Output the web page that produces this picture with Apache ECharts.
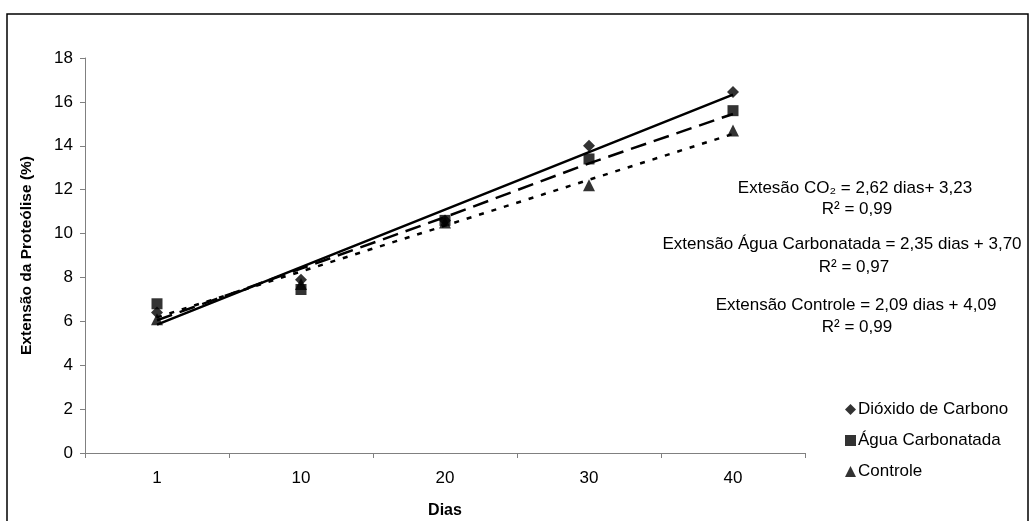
<!DOCTYPE html>
<html>
<head>
<meta charset="utf-8">
<script src="https://cdn.jsdelivr.net/npm/echarts@6/dist/echarts.min.js"></script>
<style>html,body{margin:0;padding:0;background:#fff}#c{width:1029px;height:521px}</style>
</head>
<body>
<div id="c"></div>
<script>
// Data
const categories = ['1', '10', '20', '30', '40'];
const co2 = [6.4, 7.9, 10.6, 14.0, 16.45];
const agua = [6.8, 7.45, 10.6, 13.4, 15.6];
const controle = [6.1, 7.7, 10.5, 12.2, 14.7];
// Trend lines as drawn in the picture (values at each category)
const co2Trend = [5.85, 8.47, 11.09, 13.71, 16.33];
const aguaTrend = [6.05, 8.40, 10.75, 13.2, 15.45];
const controleTrend = [6.18, 8.27, 10.36, 12.45, 14.54];
const seriesNames = ['Dióxido de Carbono', 'Água Carbonatada', 'Controle'];
const yTicks = [0, 18, 2];

const font = 'Arial, "Liberation Sans", sans-serif';
const fs = 17;
const chart = echarts.init(document.getElementById('c'));
chart.setOption({
  animation: false,
  backgroundColor: '#fff',
  grid: {left: 85, right: 224, top: 58, bottom: 68, containLabel: false, outerBoundsMode: 'none'},
  xAxis: {
    type: 'category', data: categories, boundaryGap: true,
    name: 'Dias', nameLocation: 'middle', nameGap: 50,
    nameTextStyle: {fontFamily: font, fontWeight: 'bold', fontSize: 16, color: '#000'},
    axisLine: {lineStyle: {color: '#808080', width: 1}},
    axisTick: {show: true, length: 5, inside: false, lineStyle: {color: '#808080'}},
    axisLabel: {fontFamily: font, fontSize: fs, color: '#000', margin: 17},
    splitLine: {show: false}
  },
  yAxis: {
    type: 'value', min: yTicks[0], max: yTicks[1], interval: yTicks[2],
    name: 'Extensão da Proteólise (%)', nameLocation: 'middle', nameGap: 50, nameRotate: 90,
    nameTextStyle: {fontFamily: font, fontWeight: 'bold', fontSize: 15.5, color: '#000'},
    axisLine: {show: true, lineStyle: {color: '#808080', width: 1}},
    axisTick: {show: true, length: 5, lineStyle: {color: '#808080'}},
    axisLabel: {fontFamily: font, fontSize: fs, color: '#000', margin: 12},
    splitLine: {show: false}
  },
  legend: {
    orient: 'vertical', left: 840, top: 396, itemGap: 14,
    itemWidth: 11, itemHeight: 11,
    textStyle: {fontFamily: font, fontSize: fs, color: '#000', padding: [0, 0, 0, -3]},
    data: [
      {name: seriesNames[0], icon: 'diamond'},
      {name: seriesNames[1], icon: 'rect'},
      {name: seriesNames[2], icon: 'triangle'}
    ]
  },
  series: [
    {type: 'line', data: co2Trend, symbol: 'none', silent: true, lineStyle: {color: '#000', width: 2.5, type: 'solid'}, z: 2},
    {type: 'line', data: aguaTrend, symbol: 'none', silent: true, lineStyle: {color: '#000', width: 2.5, type: [16, 8]}, z: 2},
    {type: 'line', data: controleTrend, symbol: 'none', silent: true, lineStyle: {color: '#000', width: 2.5, type: [5, 8]}, z: 2},
    {name: seriesNames[0], type: 'scatter', data: co2, symbol: 'diamond', symbolSize: 12, itemStyle: {color: '#000'}, z: 3},
    {name: seriesNames[1], type: 'scatter', data: agua, symbol: 'rect', symbolSize: 11, itemStyle: {color: '#000'}, z: 3},
    {name: seriesNames[2], type: 'scatter', data: controle, symbol: 'triangle', symbolSize: 12, itemStyle: {color: '#000'}, z: 3}
  ],
  graphic: [
    {type: 'rect', shape: {x: 7, y: 14, width: 1021, height: 520}, style: {fill: 'none', stroke: '#000', lineWidth: 1.5}, silent: true},
    {type: 'text', x: 855, y: 188, style: {text: 'Extesão CO₂ = 2,62 dias+ 3,23', font: fs + 'px ' + font, fill: '#000', textAlign: 'center', textVerticalAlign: 'middle'}},
    {type: 'text', x: 857, y: 209, style: {text: 'R² = 0,99', font: fs + 'px ' + font, fill: '#000', textAlign: 'center', textVerticalAlign: 'middle'}},
    {type: 'text', x: 842, y: 244, style: {text: 'Extensão Água Carbonatada = 2,35 dias + 3,70', font: fs + 'px ' + font, fill: '#000', textAlign: 'center', textVerticalAlign: 'middle'}},
    {type: 'text', x: 854, y: 267, style: {text: 'R² = 0,97', font: fs + 'px ' + font, fill: '#000', textAlign: 'center', textVerticalAlign: 'middle'}},
    {type: 'text', x: 856, y: 305, style: {text: 'Extensão Controle = 2,09 dias + 4,09', font: fs + 'px ' + font, fill: '#000', textAlign: 'center', textVerticalAlign: 'middle'}},
    {type: 'text', x: 857, y: 327, style: {text: 'R² = 0,99', font: fs + 'px ' + font, fill: '#000', textAlign: 'center', textVerticalAlign: 'middle'}}
  ]
});
</script>
</body>
</html>
